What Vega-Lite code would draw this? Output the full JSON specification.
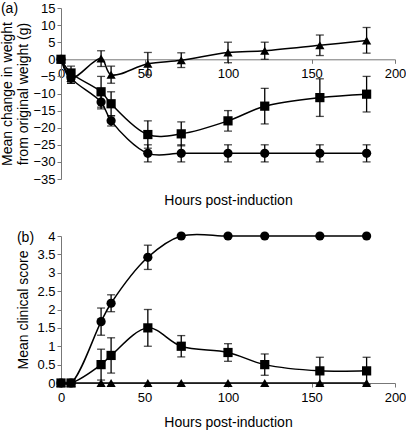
{
  "$schema": "https://vega.github.io/schema/vega-lite/v6.json",
  "padding": {"left": 0, "top": 2, "right": 8, "bottom": 2},
  "spacing": 22,
  "config": {
    "font": "Liberation Sans",
    "view": {"stroke": null},
    "axis": {
      "domainColor": "#777777",
      "tickColor": "#777777",
      "tickSize": 4,
      "labelFontSize": 13,
      "labelColor": "#000000",
      "titleFontSize": 14,
      "titleFontWeight": "normal",
      "titleColor": "#000000",
      "grid": false,
      "labelOverlap": false,
      "labelFlush": false,
      "labelBound": false
    },
    "title": {"fontSize": 14, "fontWeight": "normal", "anchor": "start", "frame": "bounds"}
  },
  "datasets": {
    "weight": [
      {"t": 0, "g": "circle", "m": 0, "lo": null, "hi": null},
      {"t": 6, "g": "circle", "m": -5.5, "lo": -7, "hi": -4},
      {"t": 24, "g": "circle", "m": -12.5, "lo": -14.5, "hi": -10.5},
      {"t": 30, "g": "circle", "m": -18, "lo": -19.5, "hi": -16.5},
      {"t": 52, "g": "circle", "m": -27.5, "lo": -30, "hi": -25},
      {"t": 72, "g": "circle", "m": -27.5, "lo": -30, "hi": -25},
      {"t": 100, "g": "circle", "m": -27.5, "lo": -30, "hi": -25},
      {"t": 122, "g": "circle", "m": -27.5, "lo": -30, "hi": -25},
      {"t": 155, "g": "circle", "m": -27.5, "lo": -30, "hi": -25},
      {"t": 183, "g": "circle", "m": -27.5, "lo": -30, "hi": -25},
      {"t": 0, "g": "square", "m": 0, "lo": null, "hi": null},
      {"t": 6, "g": "square", "m": -4, "lo": -6, "hi": -2},
      {"t": 24, "g": "square", "m": -9.5, "lo": -14, "hi": -5},
      {"t": 30, "g": "square", "m": -13, "lo": -16.5, "hi": -9.5},
      {"t": 52, "g": "square", "m": -22, "lo": -26, "hi": -18},
      {"t": 72, "g": "square", "m": -21.8, "lo": -25.3, "hi": -18.3},
      {"t": 100, "g": "square", "m": -18, "lo": -21, "hi": -15},
      {"t": 122, "g": "square", "m": -13.7, "lo": -18.9, "hi": -8.5},
      {"t": 155, "g": "square", "m": -11.2, "lo": -16.7, "hi": -5.7},
      {"t": 183, "g": "square", "m": -10.2, "lo": -15.4, "hi": -5},
      {"t": 0, "g": "triangle", "m": 0, "lo": null, "hi": null},
      {"t": 6, "g": "triangle", "m": -5.5, "lo": -7, "hi": -4},
      {"t": 24, "g": "triangle", "m": 0.2, "lo": -2.1, "hi": 2.5},
      {"t": 30, "g": "triangle", "m": -4.5, "lo": -7, "hi": -2},
      {"t": 52, "g": "triangle", "m": -1.3, "lo": -4.6, "hi": 2},
      {"t": 72, "g": "triangle", "m": -0.3, "lo": -2.4, "hi": 1.9},
      {"t": 100, "g": "triangle", "m": 2, "lo": -1, "hi": 5},
      {"t": 122, "g": "triangle", "m": 2.5, "lo": 0, "hi": 5},
      {"t": 155, "g": "triangle", "m": 4.1, "lo": 1.1, "hi": 7.1},
      {"t": 183, "g": "triangle", "m": 5.5, "lo": 1.8, "hi": 9.3}
    ],
    "score": [
      {"t": 0, "g": "triangle", "m": 0, "lo": null, "hi": null},
      {"t": 6, "g": "triangle", "m": 0, "lo": null, "hi": null},
      {"t": 24, "g": "triangle", "m": 0, "lo": null, "hi": null},
      {"t": 30, "g": "triangle", "m": 0, "lo": null, "hi": null},
      {"t": 52, "g": "triangle", "m": 0, "lo": null, "hi": null},
      {"t": 72, "g": "triangle", "m": 0, "lo": null, "hi": null},
      {"t": 100, "g": "triangle", "m": 0, "lo": null, "hi": null},
      {"t": 122, "g": "triangle", "m": 0, "lo": null, "hi": null},
      {"t": 155, "g": "triangle", "m": 0, "lo": null, "hi": null},
      {"t": 183, "g": "triangle", "m": 0, "lo": null, "hi": null},
      {"t": 0, "g": "circle", "m": 0, "lo": null, "hi": null},
      {"t": 6, "g": "circle", "m": 0, "lo": null, "hi": null},
      {"t": 24, "g": "circle", "m": 1.67, "lo": 1.3, "hi": 2.04},
      {"t": 30, "g": "circle", "m": 2.17, "lo": 1.94, "hi": 2.4},
      {"t": 52, "g": "circle", "m": 3.42, "lo": 3.09, "hi": 3.75},
      {"t": 72, "g": "circle", "m": 4, "lo": null, "hi": null},
      {"t": 100, "g": "circle", "m": 4, "lo": null, "hi": null},
      {"t": 122, "g": "circle", "m": 4, "lo": null, "hi": null},
      {"t": 155, "g": "circle", "m": 4, "lo": null, "hi": null},
      {"t": 183, "g": "circle", "m": 4, "lo": null, "hi": null},
      {"t": 0, "g": "square", "m": 0, "lo": null, "hi": null},
      {"t": 6, "g": "square", "m": 0, "lo": null, "hi": null},
      {"t": 24, "g": "square", "m": 0.5, "lo": 0.08, "hi": 0.92},
      {"t": 30, "g": "square", "m": 0.75, "lo": 0.27, "hi": 1.23},
      {"t": 52, "g": "square", "m": 1.5, "lo": 1.0, "hi": 2.0},
      {"t": 72, "g": "square", "m": 1.0, "lo": 0.71, "hi": 1.29},
      {"t": 100, "g": "square", "m": 0.83, "lo": 0.59, "hi": 1.07},
      {"t": 122, "g": "square", "m": 0.5, "lo": 0.21, "hi": 0.79},
      {"t": 155, "g": "square", "m": 0.33, "lo": -0.04, "hi": 0.7},
      {"t": 183, "g": "square", "m": 0.33, "lo": -0.04, "hi": 0.7}
    ]
  },
  "vconcat": [
    {
      "title": {"text": "(a)", "dy": 18},
      "width": 334,
      "height": 171,
      "data": {"name": "weight"},
      "encoding": {
        "x": {"field": "t", "type": "quantitative", "scale": {"domain": [0, 200], "nice": false},
              "axis": {"values": [0, 50, 100, 150, 200], "offset": -119.7, "title": "Hours post-induction", "titlePadding": 113, "labelPadding": 4}}
      },
      "layer": [
        {
          "mark": {"type": "line", "interpolate": "catmull-rom", "color": "#000000", "strokeWidth": 1.5},
          "encoding": {
            "y": {"field": "m", "type": "quantitative", "scale": {"domain": [-35, 15], "nice": false},
                  "axis": {"values": [-35, -30, -25, -20, -15, -10, -5, 0, 5, 10, 15], "title": ["Mean change in weight", "from original weight (g)"], "titlePadding": 2, "labelPadding": 2}},
            "detail": {"field": "g"}
          }
        },
        {
          "transform": [{"filter": "datum.lo != null"}],
          "mark": {"type": "errorbar", "ticks": {"size": 8}, "color": "#000000", "thickness": 1.3},
          "encoding": {
            "y": {"field": "lo", "type": "quantitative", "scale": {"domain": [-35, 15], "nice": false},
                  "axis": {"values": [-35, -30, -25, -20, -15, -10, -5, 0, 5, 10, 15], "title": ["Mean change in weight", "from original weight (g)"], "titlePadding": 2, "labelPadding": 2}},
            "y2": {"field": "hi"},
            "detail": {"field": "g"}
          }
        },
        {
          "mark": {"type": "point", "filled": true, "opacity": 1, "color": "#000000", "size": 85},
          "encoding": {
            "y": {"field": "m", "type": "quantitative", "scale": {"domain": [-35, 15], "nice": false},
                  "axis": {"values": [-35, -30, -25, -20, -15, -10, -5, 0, 5, 10, 15], "title": ["Mean change in weight", "from original weight (g)"], "titlePadding": 2, "labelPadding": 2}},
            "shape": {"field": "g", "type": "nominal", "legend": null,
                      "scale": {"domain": ["circle", "square", "triangle"], "range": ["circle", "square", "triangle-up"]}}
          }
        }
      ]
    },
    {
      "title": {"text": "(b)", "dy": 19},
      "width": 334,
      "height": 147,
      "data": {"name": "score"},
      "encoding": {
        "x": {"field": "t", "type": "quantitative", "scale": {"domain": [0, 200], "nice": false},
              "axis": {"values": [0, 50, 100, 150, 200], "title": "Hours post-induction", "titlePadding": 11, "labelPadding": 4}}
      },
      "layer": [
        {
          "mark": {"type": "line", "interpolate": "catmull-rom", "color": "#000000", "strokeWidth": 1.5},
          "encoding": {
            "y": {"field": "m", "type": "quantitative", "scale": {"domain": [0, 4], "nice": false},
                  "axis": {"values": [0, 0.5, 1, 1.5, 2, 2.5, 3, 3.5, 4], "format": "~g", "title": "Mean clinical score", "titlePadding": 6, "labelPadding": 2}},
            "detail": {"field": "g"}
          }
        },
        {
          "transform": [{"filter": "datum.lo != null"}],
          "mark": {"type": "errorbar", "ticks": {"size": 8}, "color": "#000000", "thickness": 1.3},
          "encoding": {
            "y": {"field": "lo", "type": "quantitative", "scale": {"domain": [0, 4], "nice": false},
                  "axis": {"values": [0, 0.5, 1, 1.5, 2, 2.5, 3, 3.5, 4], "format": "~g", "title": "Mean clinical score", "titlePadding": 6, "labelPadding": 2}},
            "y2": {"field": "hi"},
            "detail": {"field": "g"}
          }
        },
        {
          "mark": {"type": "point", "filled": true, "opacity": 1, "color": "#000000", "size": 85},
          "encoding": {
            "y": {"field": "m", "type": "quantitative", "scale": {"domain": [0, 4], "nice": false},
                  "axis": {"values": [0, 0.5, 1, 1.5, 2, 2.5, 3, 3.5, 4], "format": "~g", "title": "Mean clinical score", "titlePadding": 6, "labelPadding": 2}},
            "shape": {"field": "g", "type": "nominal", "legend": null,
                      "scale": {"domain": ["circle", "square", "triangle"], "range": ["circle", "square", "triangle-up"]}}
          }
        }
      ]
    }
  ]
}
